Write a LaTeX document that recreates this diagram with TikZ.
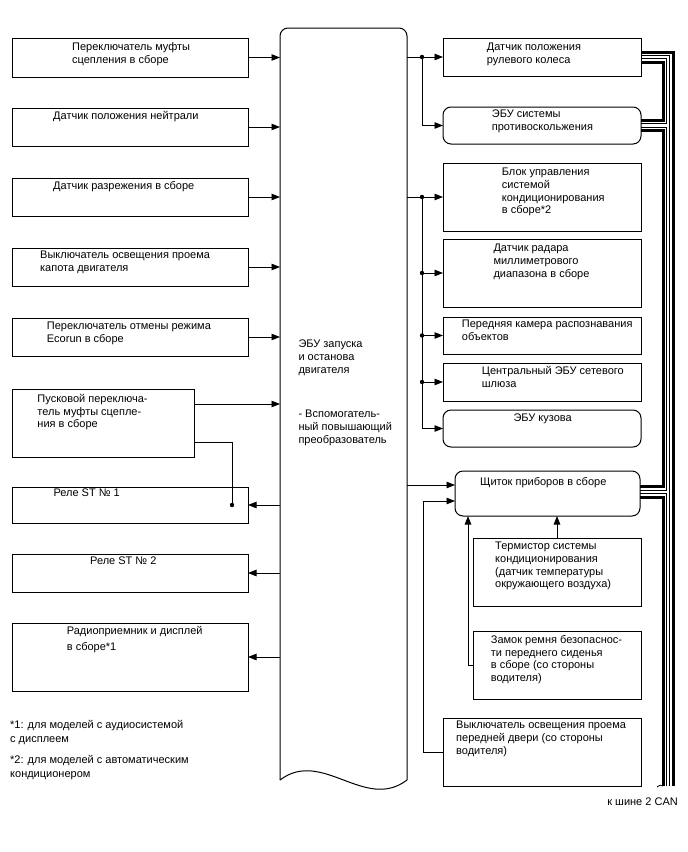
\documentclass[tikz,border=0pt]{standalone}
\usepackage{fontspec}
\setmainfont{Liberation Sans}
\usetikzlibrary{arrows.meta,fit}
\begin{document}
\begin{tikzpicture}[x=1pt,y=-1pt,
  box/.style={draw, line width=1pt, inner sep=0pt, outer sep=0pt},
  rbox/.style={box, rounded corners=8pt},
  txt/.style={anchor=north west, inner sep=0pt, align=left, font=\fontsize{11}{12.8}\selectfont},
  dot/.style={circle, fill=black, inner sep=0pt, minimum size=4.4pt},
  conn/.style={line width=0.9pt},
  arr/.style={conn, -{Triangle[length=8.5pt,width=6.5pt]}},
  canthick/.style={line width=3pt, line join=miter},
  canthin/.style={line width=0.8pt, line join=miter}]
\fill[white] (0,0) rectangle (688,852);
\useasboundingbox (0,0) rectangle (688,852);

% left column boxes
\node[box, fit={(12,38) (248,77)}] (b1) {};
\node[box, fit={(12,108) (248,146)}] (b2) {};
\node[box, fit={(12,178) (248,216)}] (b3) {};
\node[box, fit={(12,248) (248,286)}] (b4) {};
\node[box, fit={(12,318) (248,356)}] (b5) {};
\node[box, fit={(12,389) (194,457)}] (b6) {};
\node[box, fit={(12,487) (248,523)}] (b7) {};
\node[box, fit={(12,554) (248,592)}] (b8) {};
\node[box, fit={(12,623) (248,691)}] (b9) {};

\node[txt] (t1) at (72,42.8) {Переключатель муфты\\сцепления в сборе};
\node[txt] (t2) at (53,110.8) {Датчик положения нейтрали};
\node[txt] (t3) at (53,180.8) {Датчик разрежения в сборе};
\node[txt] (t4) at (40,250.8) {Выключатель освещения проема\\капота двигателя};
\node[txt] (t5) at (46.7,321.8) {Переключатель отмены режима\\Ecorun в сборе};
\node[txt] (t6) at (37.3,394) {Пусковой переключа-\\тель муфты сцепле-\\ния в сборе};
\node[txt] (t7) at (53.3,489) {Реле ST № 1};
\node[txt] (t8) at (90,556.8) {Реле ST № 2};
\node[txt] (t9) at (66.7,626) {Радиоприемник и дисплей\\[3pt]в сборе*1};
\node[txt] (f1) at (10,720) {*1: для моделей с аудиосистемой\\[1.5pt]с дисплеем};
\node[txt] (f2) at (10,755) {*2: для моделей с автоматическим\\[1.5pt]кондиционером};

% central ECU
\node[inner sep=0pt, outer sep=0pt, fit={(280,28) (407,780)}] (ecu) {};
\draw[line width=1pt, rounded corners=8pt] (ecu.south west) -- (ecu.north west) -- (ecu.north east) -- (ecu.south east);
\draw[line width=1pt] (ecu.south east) .. controls (365,812) and (322,748) .. (ecu.south west);
\node[txt] (e1) at (298.3,340) {ЭБУ запуска\\и останова\\двигателя};
\node[txt] (e2) at (298.3,410) {- Вспомогатель-\\ный повышающий\\преобразователь};

% right column boxes
\node[box, fit={(443,38) (641,76)}] (r1) {};
\node[rbox, fit={(443,107) (641,144)}] (r2) {};
\node[box, fit={(443,163) (641,231)}] (r3) {};
\node[box, fit={(443,239) (641,307)}] (r4) {};
\node[box, fit={(443,317) (641,354)}] (r5) {};
\node[box, fit={(443,363) (641,401)}] (r6) {};
\node[rbox, fit={(443,410) (641,447)}] (r7) {};
\node[rbox, fit={(455,471) (640,516)}] (r8) {};
\node[box, fit={(473,538) (641,606)}] (r9) {};
\node[box, fit={(473,631) (641,699)}] (r10) {};
\node[box, fit={(443,718) (641,786)}] (r11) {};

\node[txt] (s1) at (486.7,42.8) {Датчик положения\\рулевого колеса};
\node[txt] (s2) at (491.7,110) {ЭБУ системы\\противоскольжения};
\node[txt] (s3) at (501.7,167.8) {Блок управления\\системой\\кондиционирования\\в сборе*2};
\node[txt] (s4) at (493.3,244) {Датчик радара\\миллиметрового\\диапазона в сборе};
\node[txt] (s5) at (461.7,320) {Передняя камера распознавания\\объектов};
\node[txt] (s6) at (481.7,366) {Центральный ЭБУ сетевого\\шлюза};
\node[txt] (s7) at (513.3,413.3) {ЭБУ кузова};
\node[txt] (s8) at (480,476.8) {Щиток приборов в сборе};
\node[txt] (s9) at (495,541.8) {Термистор системы\\кондиционирования\\(датчик температуры\\окружающего воздуха)};
\node[txt] (s10) at (490.7,635) {Замок ремня безопаснос-\\ти переднего сиденья\\в сборе (со стороны\\водителя)};
\node[txt] (s11) at (456,721) {Выключатель освещения проема\\передней двери (со стороны\\водителя)};
\node[anchor=east, inner sep=0pt, font=\fontsize{11}{12.8}\selectfont] (canlbl) at (678,802) {к шине 2 CAN};

% left connectors
\foreach \b in {b1,b2,b3,b4,b5} \draw[arr] (\b.east) -- (\b.east -| ecu.west);
\coordinate (k6) at (0,404);
\draw[arr] (b6.east |- k6) -- (ecu.west |- k6);
\node[dot] (d1) at (232,505) {};
\coordinate (k7) at (0,442);
\draw[conn] (b6.east |- k7) -| (d1.center);
\draw[arr] (ecu.west |- b7.east) -- (b7.east);
\draw[arr] (ecu.west |- b8.east) -- (b8.east);
\draw[arr] (ecu.west |- b9.east) -- (b9.east);

% right connectors
\node[dot] (d2) at (422,57) {};
\draw[conn] (ecu.east |- d2) -- (d2.center);
\draw[arr] (d2.center) -- (r1.west);
\draw[arr] (d2.center) |- (r2.west);
\node[dot] (d3) at (422,197) {};
\draw[conn] (ecu.east |- d3) -- (d3.center);
\draw[arr] (d3.center) -- (r3.west);
\node[dot] (d4) at (d3 |- r4.west) {};
\node[dot] (d5) at (d3 |- r5.west) {};
\node[dot] (d6) at (d3 |- r6.west) {};
\draw[arr] (d4.center) -- (r4.west);
\draw[arr] (d5.center) -- (r5.west);
\draw[arr] (d6.center) -- (r6.west);
\draw[arr] (d3.center) |- (r7.west);
\coordinate (k8) at (0,485);
\draw[arr] (ecu.east |- k8) -- (r8.west |- k8);
\coordinate (k9) at (423,501);
\draw[arr] (r11.west) -| (k9) -- (r8.west |- k9);
\coordinate (k10) at (468,600);
\draw[arr] (r10.west) -| (k10 |- r8.south);
\draw[arr] (r9.north) -- (r9.north |- r8.south);

% CAN bus
\draw[canthick] (r1.east |- 0,52) -| (673,786);
\draw[canthin] (r1.east |- 0,55.5) -| (669.8,786);
\draw[canthin] (r1.east |- 0,58.6) -| (666.6,123.6) -- (r2.east |- 0,123.6);
\draw[canthick] (r1.east |- 0,62) -| (663,120) -- (r2.east |- 0,120);
\draw[canthin] (r2.east |- 0,127) -| (666.6,490) -- (r8.east |- 0,490);
\draw[canthick] (r2.east |- 0,130.5) -| (663,486.2) -- (r8.east |- 0,486.2);
\draw[canthin] (r8.east |- 0,493.5) -| (666.6,786);
\draw[canthick] (r8.east |- 0,497) -| (663,786);
\draw[canthin] (663,786) .. controls (661,784.5) and (659,785) .. (657,787);
\end{tikzpicture}
\end{document}
